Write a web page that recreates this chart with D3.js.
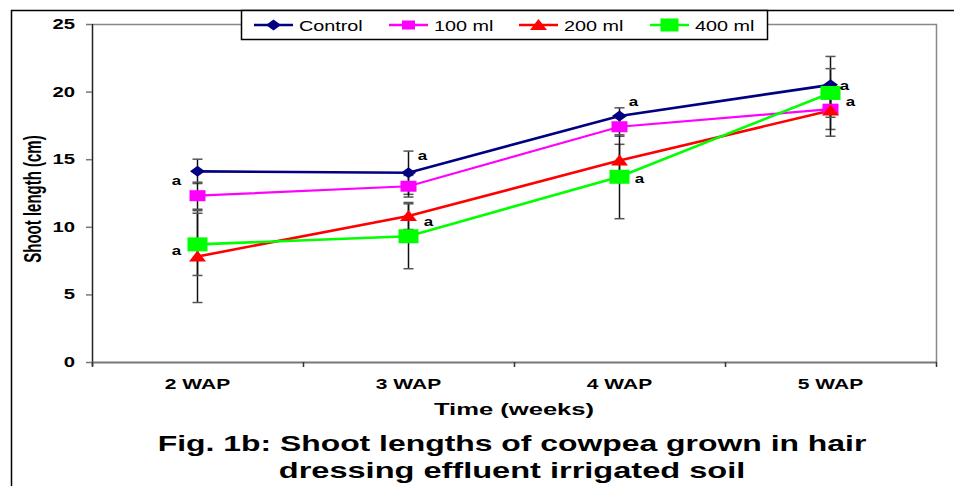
<!DOCTYPE html>
<html><head><meta charset="utf-8">
<script src="https://cdn.jsdelivr.net/npm/d3@7"></script>
<style>body{margin:0;background:#fff;} svg{display:block;font-family:"Liberation Sans",Arial,sans-serif;}</style>
</head><body>
<svg id="c" width="954" height="486"></svg>
<script>
const categories = ["2 WAP", "3 WAP", "4 WAP", "5 WAP"];
const seriesNames = ["Control", "100 ml", "200 ml", "400 ml"];
const control = [14.1, 14.0, 18.2, 20.5];
const ml100 = [12.3, 13.0, 17.4, 18.7];
const ml200 = [7.8, 10.8, 14.9, 18.6];
const ml400 = [8.7, 9.3, 13.7, 19.9];
const controlErr = [0.9, 1.6, 0.6, 2.1];
const ml100Err = [1.0, 0.8, 0.7, 1.5];
const ml200Err = [3.4, 1.0, 1.2, 1.9];
const ml400Err = [2.3, 2.4, 3.1, 1.8];
const yTicks = [0, 5, 10, 15, 20, 25];
// significance letters: category, value level
const letterCats = ["2 WAP", "2 WAP", "3 WAP", "3 WAP", "4 WAP", "4 WAP", "5 WAP", "5 WAP"];
const letterVals = [13.4, 8.2, 15.2, 10.35, 19.2, 13.5, 20.4, 19.2];
const letterText = ["a", "a", "a", "a", "a", "a", "a", "a"];

const colors = ["#000080", "#FF00FF", "#FF0000", "#00FF00"];
const shapes = ["diamond", "square", "triangle", "bigsquare"];
const values = [control, ml100, ml200, ml400];
const errs = [controlErr, ml100Err, ml200Err, ml400Err];

const svg = d3.select("#c");
const L = 92, R = 936, T = 24, B = 362;
const x = d3.scaleBand().domain(categories).range([L, R]);
const y = d3.scaleLinear().domain([0, 25]).range([B, T]);
const cx = c => x(c) + x.bandwidth() / 2;

// text stretched horizontally (the reference image is widened)
function stext(parent, tx, ty, str, size, bold, anchor, sx) {
  return parent.append("text")
    .attr("transform", `translate(${tx},${ty}) scale(${sx},1)`)
    .attr("text-anchor", anchor).attr("font-size", size)
    .attr("font-weight", bold ? "bold" : "normal").attr("fill", "#000").text(str);
}

// outer frame
svg.append("path").attr("d", `M11.5,486 V10.5 H954`).attr("fill", "none").attr("stroke", "#000").attr("stroke-width", 1.5);

// plot border (top/right)
svg.append("path").attr("d", `M${L},${T}.5 H${R}.5 V${B}`).attr("fill", "none").attr("stroke", "#888").attr("stroke-width", 1.5);

// y axis
const yAxis = d3.axisLeft(y).tickValues(yTicks).tickSize(6).tickFormat(() => "");
const gy = svg.append("g").attr("transform", `translate(${L},0)`).call(yAxis);
gy.select(".domain").attr("stroke", "#222").attr("stroke-width", 1.5).attr("d", `M0.5,${T} V${B + 4}`);
gy.selectAll(".tick line").attr("stroke", "#777").attr("stroke-width", 1.5);
yTicks.forEach(t => stext(svg, 75, y(t) + 5, d3.format("d")(t), 14, true, "end", 1.45));

// x axis
const gx = svg.append("g").attr("transform", `translate(0,${B})`);
gx.append("line").attr("x1", L).attr("x2", R + 1).attr("y1", 0.5).attr("y2", 0.5).attr("stroke", "#777").attr("stroke-width", 2);
gx.selectAll(".bt").data(categories.concat(["end"])).join("line")
  .attr("x1", (d, i) => i < categories.length ? x(d) + 0.5 : R + 0.5)
  .attr("x2", (d, i) => i < categories.length ? x(d) + 0.5 : R + 0.5)
  .attr("y1", 0).attr("y2", 5).attr("stroke", "#333").attr("stroke-width", 1.5);
categories.forEach(c => stext(svg, cx(c), B + 27, c, 14, true, "middle", 1.5));

// axis titles
stext(svg, 514, 415, "Time (weeks)", 16, true, "middle", 1.6);
svg.append("text").attr("transform", `translate(41,${199}) rotate(-90) scale(1,1.55)`)
  .attr("text-anchor", "middle").attr("font-size", 15).attr("font-weight", "bold").text("Shoot length (cm)");

// figure caption
stext(svg, 512, 451, "Fig. 1b: Shoot lengths of cowpea grown in hair", 22, true, "middle", 1.45);
stext(svg, 512, 478, "dressing effluent irrigated soil", 22, true, "middle", 1.48);

// error bars
values.forEach((vals, si) => {
  const g = svg.append("g");
  vals.forEach((v, i) => {
    const px = cx(categories[i]);
    const e = errs[si][i];
    g.append("line").attr("x1", px).attr("x2", px).attr("y1", y(v + e)).attr("y2", y(v - e))
      .attr("stroke", "#111").attr("stroke-width", 1.5);
    [v + e, v - e].forEach(t => {
      g.append("line").attr("x1", px - 5).attr("x2", px + 5).attr("y1", y(t)).attr("y2", y(t))
        .attr("stroke", "#555").attr("stroke-width", 1.5);
    });
  });
});

// lines
const line = d3.line().x((d, i) => cx(categories[i])).y(d => y(d));
values.forEach((vals, si) => {
  svg.append("path").datum(vals).attr("d", line).attr("fill", "none")
    .attr("stroke", colors[si]).attr("stroke-width", si === 1 ? 2.2 : 2.6);
});

function marker(g, shape, color, px, py) {
  if (shape === "diamond") {
    g.append("path").attr("d", `M${px - 7.5},${py} L${px},${py - 5.5} L${px + 7.5},${py} L${px},${py + 5.5} Z`).attr("fill", color);
  } else if (shape === "square") {
    g.append("rect").attr("x", px - 8).attr("y", py - 5.5).attr("width", 16).attr("height", 11).attr("fill", color);
  } else if (shape === "triangle") {
    g.append("path").attr("d", `M${px - 8.5},${py + 5} L${px},${py - 6} L${px + 8.5},${py + 5} Z`).attr("fill", color);
  } else {
    g.append("rect").attr("x", px - 10).attr("y", py - 7).attr("width", 20).attr("height", 14).attr("fill", color);
  }
}

// markers
values.forEach((vals, si) => {
  const g = svg.append("g");
  vals.forEach((v, i) => marker(g, shapes[si], colors[si], cx(categories[i]), y(v)));
});

// significance letters
letterText.forEach((t, i) => {
  const c = letterCats[i];
  const ci = categories.indexOf(c);
  const dx = ci === 0 ? -21 : (i % 2 === 0 ? 14 : 20);
  stext(svg, cx(c) + dx, y(letterVals[i]) + 4, t, 13, true, "middle", 1.3);
});

// legend
const lg = svg.append("g");
lg.append("rect").attr("x", 241.5).attr("y", 10.5).attr("width", 526).attr("height", 29)
  .attr("fill", "#fff").attr("stroke", "#000").attr("stroke-width", 1.5);
const legX = [254, 389, 519, 650];
seriesNames.forEach((n, si) => {
  const lx = legX[si];
  const ly = 25;
  lg.append("line").attr("x1", lx).attr("x2", lx + 39).attr("y1", ly).attr("y2", ly)
    .attr("stroke", colors[si]).attr("stroke-width", 2.6);
  const s = shapes[si];
  if (s === "bigsquare") {
    lg.append("rect").attr("x", lx + 19.5 - 9).attr("y", ly - 6.5).attr("width", 18).attr("height", 13).attr("fill", colors[si]);
  } else if (s === "square") {
    lg.append("rect").attr("x", lx + 19.5 - 6.5).attr("y", ly - 4.5).attr("width", 13).attr("height", 9).attr("fill", colors[si]);
  } else {
    marker(lg, s, colors[si], lx + 19.5, ly);
  }
  stext(lg, lx + 45, ly + 6, n, 15, false, "start", 1.32);
});
</script>
</body></html>
